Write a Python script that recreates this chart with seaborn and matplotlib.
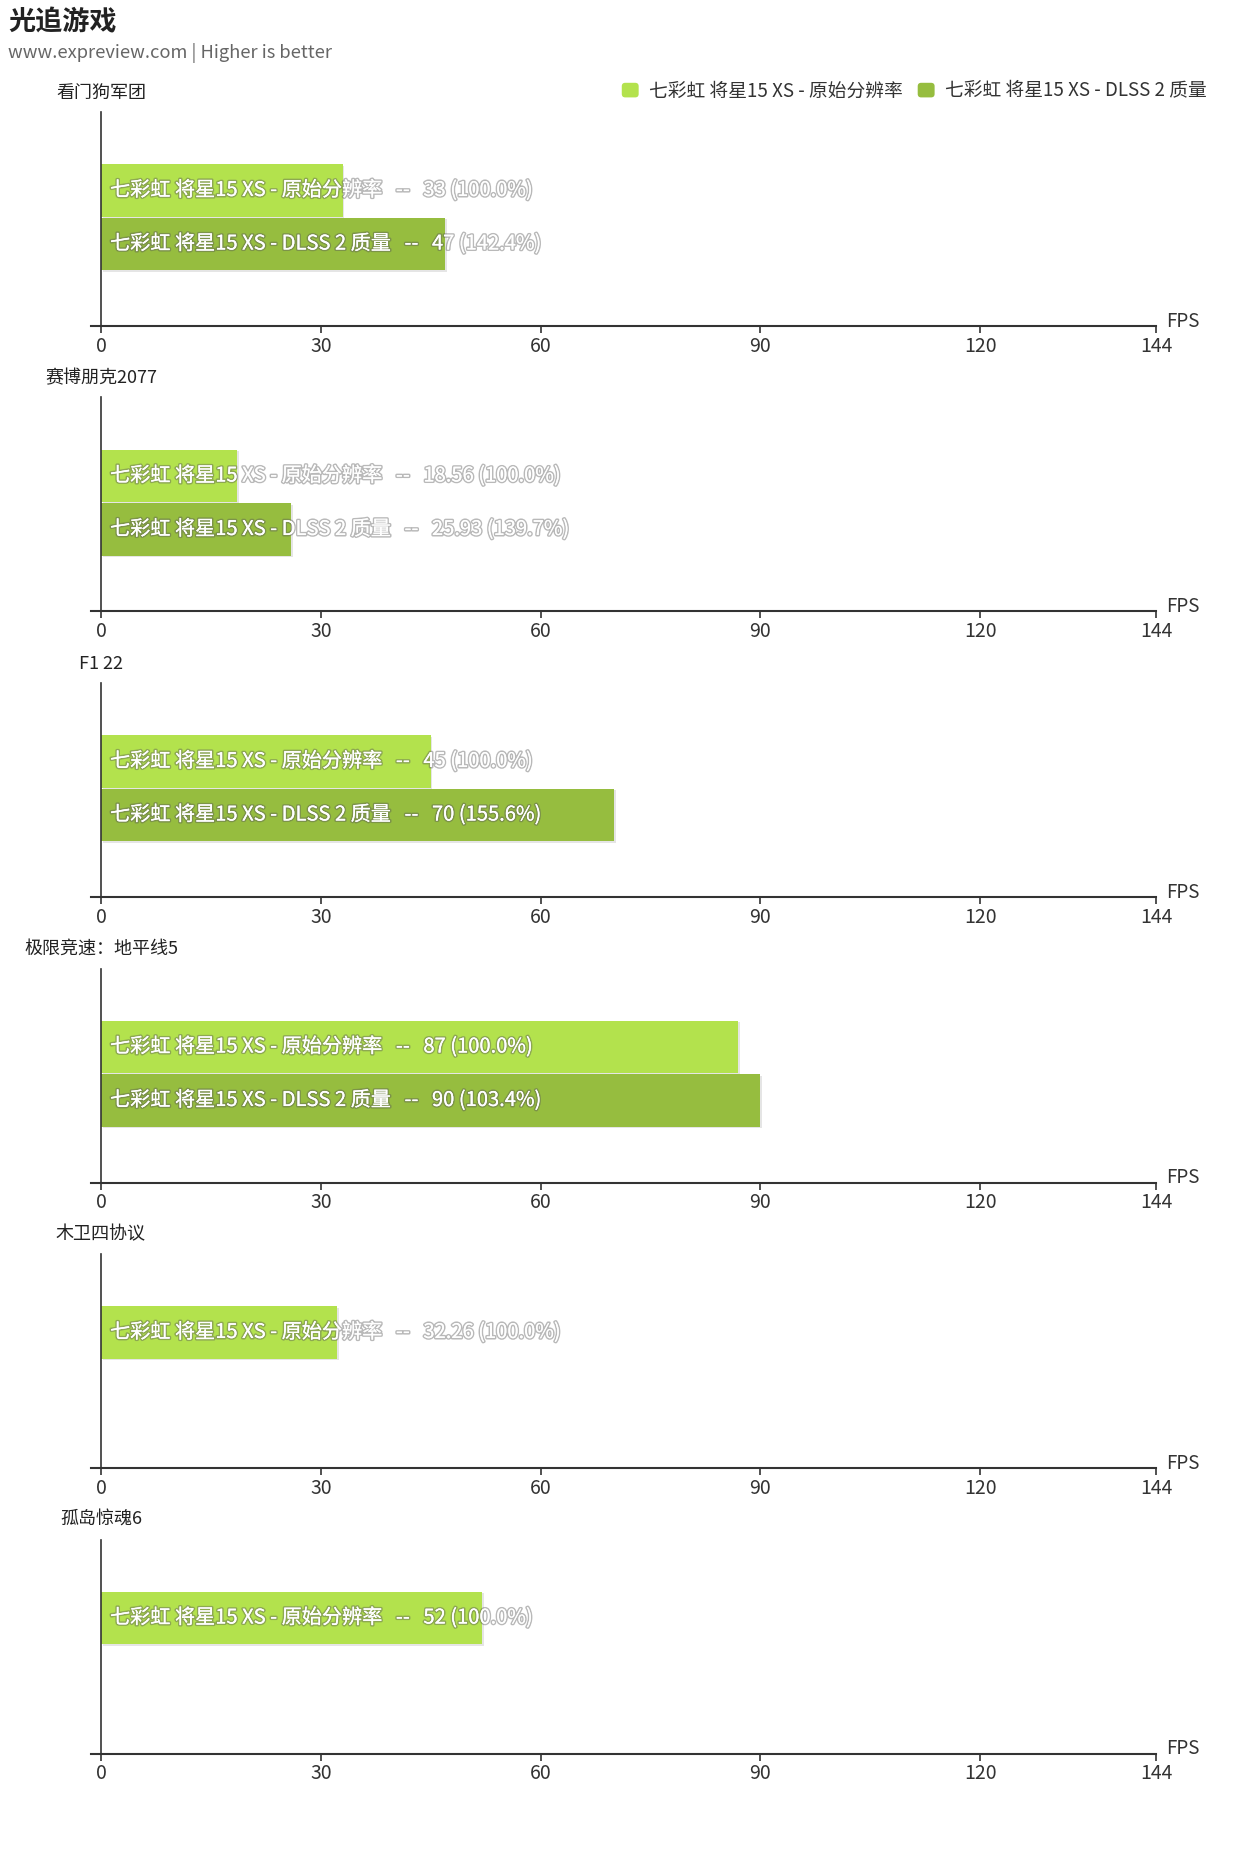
import matplotlib
matplotlib.use("Agg")
import matplotlib.pyplot as plt
import matplotlib.patheffects as pe
from matplotlib.patches import FancyBboxPatch
from matplotlib.legend_handler import HandlerPatch
import seaborn as sns
import pandas as pd

sns.set_theme(style="white")
plt.rcParams['font.family'] = ['Noto Sans CJK SC', 'DejaVu Sans']

# ---- data ----
title = "光追游戏"
subtitle = "www.expreview.com | Higher is better"
series = ["七彩虹 将星15 XS - 原始分辨率", "七彩虹 将星15 XS - DLSS 2 质量"]
colors = ["#b3e24d", "#96bd3f"]
games = ["看门狗军团", "赛博朋克2077", "F1 22", "极限竞速：地平线5", "木卫四协议", "孤岛惊魂6"]
native_fps = [33, 18.56, 45, 87, 32.26, 52]
dlss_fps = [47, 25.93, 70, 90, None, None]
xticks = [0, 30, 60, 90, 120, 144]
unit = "FPS"

W, H = 1255, 1851
fig = plt.figure(figsize=(W / 100, H / 100), dpi=100)

fig.text(8 / W, 1 - 22 / H, title, fontsize=19.5, fontweight='bold', color='#222222',
         ha='left', va='center')
fig.text(8 / W, 1 - 53 / H, subtitle, fontsize=13.2, color='#666666', ha='left', va='center')


class RoundHandler(HandlerPatch):
    def create_artists(self, legend, orig_handle, xdescent, ydescent, width, height,
                       fontsize, trans):
        p = FancyBboxPatch((-xdescent + 1, -ydescent + 1), width - 2, height - 2,
                           boxstyle="round,pad=0,rounding_size=2.5",
                           facecolor=orig_handle.get_facecolor(), edgecolor='none',
                           transform=trans)
        return [p]


handles = [FancyBboxPatch((0, 0), 1, 1, facecolor=c, edgecolor='none') for c in colors]
fig.legend(handles, series, loc='center right', bbox_to_anchor=(1224 / W, 1 - 91 / H),
           ncol=2, frameon=False, fontsize=13.5, handlelength=1.05, handleheight=1.05,
           handletextpad=0.5, columnspacing=0.7, labelcolor='#333333',
           handler_map={FancyBboxPatch: RoundHandler()})

x0_px, x144_px = 101, 1156
px_per = (x144_px - x0_px) / 144.0
xmin = -1.3
left_px = x0_px + xmin * px_per

shadow_fx = [pe.withStroke(linewidth=2.2, foreground=(0.35, 0.35, 0.35, 0.42)), pe.Normal()]

for i, g in enumerate(games):
    axis_y = 326 + 285.5 * i
    ax = fig.add_axes([left_px / W, 1 - axis_y / H, (x144_px - left_px) / W, 214 / H])

    rows = [{"series": series[0], "fps": native_fps[i]}]
    if dlss_fps[i] is not None:
        rows.append({"series": series[1], "fps": dlss_fps[i]})
    df = pd.DataFrame(rows)
    present = list(df["series"])
    pal = {s: c for s, c in zip(series, colors)}
    sns.barplot(data=df, x="fps", y="series", hue="series", order=series,
                hue_order=present, palette=pal, width=0.98, legend=False, ax=ax,
                orient='h', edgecolor='none', linewidth=0, saturation=1)
    for p in ax.patches:
        p.set_path_effects([pe.SimplePatchShadow(offset=(1.2, -1.2), shadow_rgbFace='#000000',
                                                 alpha=0.10),
                            pe.Normal()])

    ax.set_xlim(xmin, 144)
    ax.set_ylim(2.533, -1.467)
    ax.set_xticks(xticks)
    ax.set_xticklabels([str(t) for t in xticks])
    ax.set_yticks([])
    ax.set_xlabel("")
    ax.set_ylabel("")
    ax.grid(False)
    for s in ['top', 'right']:
        ax.spines[s].set_visible(False)
    ax.spines['left'].set_position(('data', 0))
    ax.spines['left'].set_color('#333333')
    ax.spines['left'].set_linewidth(1.2)
    ax.spines['bottom'].set_color('#333333')
    ax.spines['bottom'].set_linewidth(1.5)
    ax.tick_params(axis='x', direction='out', length=5, width=1.2, color='#333333',
                   labelsize=14, labelcolor='#333333', pad=2, bottom=True)

    base = native_fps[i]
    vals = [native_fps[i], dlss_fps[i]]
    for j, v in enumerate(vals):
        if v is None:
            continue
        pct = v / base * 100
        txt = f"{series[j]}   --   {v:g} ({pct:.1f}%)"
        ax.annotate(txt, xy=(0, j), xycoords='data', xytext=(6.5, 0),
                    textcoords='offset points', ha='left', va='center',
                    fontsize=14.5, color='white', path_effects=shadow_fx)

    ax.annotate(g, xy=(0, 1), xycoords=('data', 'axes fraction'), xytext=(0, 14),
                textcoords='offset points', ha='center', va='center', fontsize=13,
                color='#222222')
    ax.annotate(unit, xy=(1, 0), xycoords='axes fraction', xytext=(7, 3.5),
                textcoords='offset points', ha='left', va='center', fontsize=13.5,
                color='#333333')

fig.savefig("out.png", dpi=100, facecolor='white')
